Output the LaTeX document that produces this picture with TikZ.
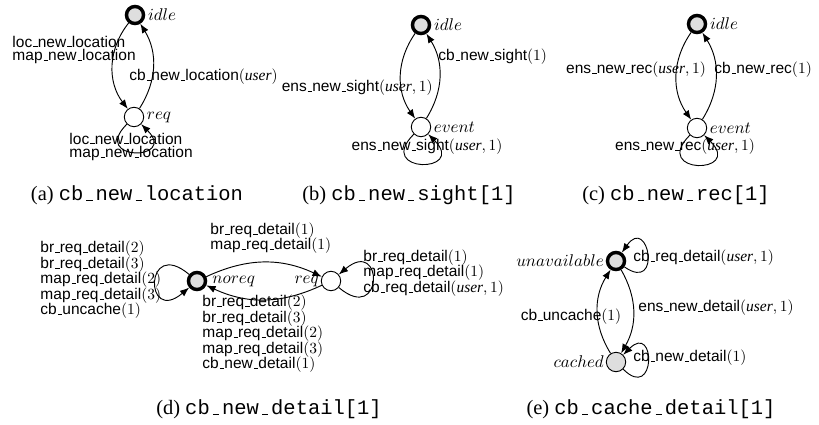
\documentclass[tikz,border=0pt]{standalone}
\usepackage{fontspec}
\setmainfont{Liberation Serif}
\setsansfont{Liberation Sans}
\setmonofont{Liberation Mono}
\usetikzlibrary{arrows.meta, positioning}

\newcommand\us{\kern.06em\vbox{\hrule width.3em}}
\newcommand\tus{\kern.15em\vbox{\hrule width.3em}\kern.15em}
\newcommand\usr{\textrm{\itshape user}}
\newcommand\lbfont{\sffamily\fontsize{10}{10}\selectfont\lineskiplimit=-20pt\relax}
\newcommand\tightfont{\sffamily\fontsize{10}{9}\selectfont\lineskiplimit=-20pt\relax}

\tikzset{
  plainstate/.style={circle, draw, inner sep=0pt, minimum size=12.5pt, line width=.6pt},
  startstate/.style={plainstate, line width=2.2pt, fill=black!13, minimum size=11pt},
  cachestate/.style={plainstate, fill=black!13},
  lbl/.style={font=\lbfont, inner sep=0pt, align=left},
  tightlbl/.style={lbl, font=\tightfont},
  sname/.style={font=\fontsize{11.4}{12}\selectfont, inner sep=0pt},
  subcap/.style={font=\fontsize{13.2}{14}\selectfont, inner sep=0pt},
}

\begin{document}
\begin{tikzpicture}[x=0.645pt, y=-0.645pt, line width=.6pt,
    >={Latex[length=6pt, width=4.6pt]}]
  \useasboundingbox (0,0) rectangle (819,424);

  % (a) cb_new_location
  \node[startstate] (a0) at (135,15) {};
  \node[plainstate] (a1) at (134,117) {};
  \node[sname, right=1.5pt of a0] (a0n) {$idle$};
  \node[sname, right=1.5pt of a1] (a1n) {$req$};

  \path[->] (a0) edge[bend right=38] (a1)
            (a1) edge[bend right=32] (a0)
            (a1) edge[out=-135, in=-45, distance=34pt] (a1);

  \node[tightlbl, anchor=west] (a01) at (12,50) {loc\us new\us location\\map\us new\us location};
  \node[lbl, anchor=west] (a10) at (129,77) {cb\us new\us location$(\usr)$};
  \node[tightlbl, anchor=west] (a11) at (69,147) {loc\us new\us location\\map\us new\us location};
  \node[subcap] (acap) at (137,195) {(a) \texttt{cb\tus new\tus location}};

  % (b) cb_new_sight[1]
  \node[startstate] (b0) at (421,25) {};
  \node[plainstate] (b1) at (421,127) {};
  \node[sname, right=1.5pt of b0] (b0n) {$idle$};
  \node[sname, right=1.5pt of b1] (b1n) {$event$};

  \path[->] (b0) edge[bend right=35] (b1)
            (b1) edge[bend right=32] (b0)
            (b1) edge[out=-135, in=-45, distance=36pt] (b1);

  \node[lbl, anchor=east] (b01) at (433,88) {ens\us new\us sight$(\usr, 1)$};
  \node[lbl, anchor=west] (b10) at (438,57) {cb\us new\us sight$(1)$};
  \node[lbl] (b11) at (427,147) {ens\us new\us sight$(\usr, 1)$};
  \node[subcap] (bcap) at (409,195) {(b) \texttt{cb\tus new\tus sight[1]}};

  % (c) cb_new_rec[1]
  \node[startstate] (c0) at (697,24) {};
  \node[plainstate] (c1) at (697,128) {};
  \node[sname, right=1.5pt of c0] (c0n) {$idle$};
  \node[sname, right=1.5pt of c1] (c1n) {$event$};

  \path[->] (c0) edge[bend right=35] (c1)
            (c1) edge[bend right=32] (c0)
            (c1) edge[out=-135, in=-45, distance=36pt] (c1);

  \node[lbl] (c01) at (636,70) {ens\us new\us rec$(\usr, 1)$};
  \node[lbl, anchor=west] (c10) at (714,70) {cb\us new\us rec$(1)$};
  \node[lbl] (c11) at (685,147) {ens\us new\us rec$(\usr, 1)$};
  \node[subcap] (ccap) at (676,195) {(c) \texttt{cb\tus new\tus rec[1]}};

  % (d) cb_new_detail[1]
  \node[startstate] (d0) at (197,281) {};
  \node[plainstate] (d1) at (331,281) {};
  \node[sname, right=3pt of d0] (d0n) {$noreq$};
  \node[sname, left=1pt of d1] (d1n) {$req$};

  \path[->] (d0) edge[bend left=25] (d1)
            (d1) edge[bend left=25] (d0)
            (d0) edge[out=140, in=220, distance=38pt] (d0)
            (d1) edge[out=-40, in=40, distance=38pt] (d1);

  \node[lbl, anchor=west] (d00) at (40,280) {br\us req\us detail$(2)$\\br\us req\us detail$(3)$\\map\us req\us detail$(2)$\\map\us req\us detail$(3)$\\cb\us uncache$(1)$};
  \node[lbl, anchor=west] (d01) at (210,238) {br\us req\us detail$(1)$\\map\us req\us detail$(1)$};
  \node[lbl, anchor=west] (d10) at (202,334) {br\us req\us detail$(2)$\\br\us req\us detail$(3)$\\map\us req\us detail$(2)$\\map\us req\us detail$(3)$\\cb\us new\us detail$(1)$};
  \node[lbl, anchor=west] (d11) at (363,273) {br\us req\us detail$(1)$\\map\us req\us detail$(1)$\\cb\us req\us detail$(\usr, 1)$};
  \node[subcap] (dcap) at (269,409) {(d) \texttt{cb\tus new\tus detail[1]}};

  % (e) cb_cache_detail[1]
  \node[startstate] (e0) at (616,261) {};
  \node[cachestate] (e1) at (616,362) {};
  \node[sname, left=1pt of e0] (e0n) {$unavailable$};
  \node[sname, left=1pt of e1] (e1n) {$cached$};

  \path[->] (e0) edge[bend left=30] (e1)
            (e1) edge[bend left=32] (e0)
            (e0) edge[out=-35, in=55, distance=30pt] (e0)
            (e1) edge[out=-45, in=45, distance=30pt] (e1);

  \node[lbl, anchor=west] (e00) at (633,258) {cb\us req\us detail$(\usr, 1)$};
  \node[lbl, anchor=west] (e01) at (638,308) {ens\us new\us detail$(\usr, 1)$};
  \node[lbl] (e10) at (571,317) {cb\us uncache$(1)$};
  \node[lbl, anchor=west] (e11) at (633,358) {cb\us new\us detail$(1)$};
  \node[subcap] (ecap) at (651,409) {(e) \texttt{cb\tus cache\tus detail[1]}};
\end{tikzpicture}
\end{document}
